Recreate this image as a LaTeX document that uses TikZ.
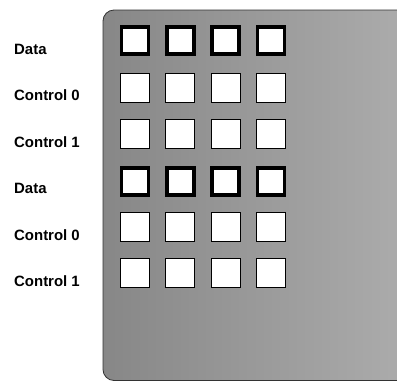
\documentclass[tikz,border=0pt]{standalone}
\usepackage{fontspec}
\setmainfont{Liberation Sans}
\tikzset{
  lbl/.style={anchor=west,font=\bfseries\fontsize{15}{17}\selectfont,inner sep=0pt},
  cell/.style={draw,fill=white,minimum size=29bp,inner sep=0pt,line width=0.8bp},
  datacell/.style={cell,draw=black,minimum size=27bp,line width=3.5bp}
}
\begin{document}
\begin{tikzpicture}[x=1bp,y=-1bp]
\useasboundingbox (0,0) rectangle (397,381);
% panel
\shade[left color=black!47,right color=black!32,draw=black!80,line width=0.8bp,rounded corners=11bp]
  (103,10) rectangle (420,380.5);
\clip (0,0) rectangle (397,381);

% row labels
\node[lbl] (l1) at (14,49) {Data};
\node[lbl] (l2) at (14,95.5) {Control 0};
\node[lbl] (l3) at (14,142) {Control 1};
\node[lbl] (l4) at (14,188.5) {Data};
\node[lbl] (l5) at (14,235) {Control 0};
\node[lbl] (l6) at (14,281.5) {Control 1};

% cells
\foreach \c in {1,...,4}{
  \node[datacell] (d1\c) at ({135+45.3*(\c-1)},40.5) {};
  \node[cell] (a1\c) at ({135+45.3*(\c-1)},87.5) {};
  \node[cell] (b1\c) at ({135+45.3*(\c-1)},134) {};
  \node[datacell] (d2\c) at ({135+45.3*(\c-1)},181.5) {};
  \node[cell] (a2\c) at ({135+45.3*(\c-1)},226.5) {};
  \node[cell] (b2\c) at ({135+45.3*(\c-1)},272.5) {};
}
\end{tikzpicture}
\end{document}
